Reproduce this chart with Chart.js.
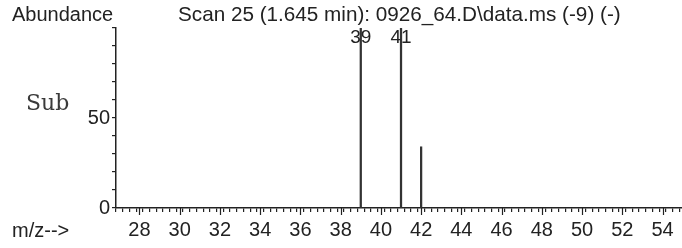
<!DOCTYPE html>
<html>
<head>
<meta charset="utf-8">
<script src="https://cdn.jsdelivr.net/npm/chart.js@4/dist/chart.umd.min.js"></script>
<style>
  html, body { margin: 0; padding: 0; background: #fff; }
  #wrap { width: 682px; height: 248px; position: relative; }
</style>
</head>
<body>
<div id="wrap"><canvas id="c"></canvas></div>
<script>
// ---- data ----
const mzValues = [39, 41, 42];
const abundance = [100, 100, 34];
const peakLabels = ["39", "41", ""];
const xMajorLabels = [28, 30, 32, 34, 36, 38, 40, 42, 44, 46, 48, 50, 52, 54];
const yLabels = [0, 50];
const titleText = "Scan 25 (1.645 min): 0926_64.D\\data.ms (-9) (-)";
const yTitle = "Abundance";
const xTitle = "m/z-->";
const sideNote = "Sub";

const INK = "#222";
const FONT = "'Liberation Sans', Arial, sans-serif";

const decorations = {
  id: "decorations",
  afterDraw(chart) {
    const ctx = chart.ctx;
    const xs = chart.scales.x, ys = chart.scales.y;
    ctx.save();
    // long major ticks
    ctx.strokeStyle = INK;
    ctx.lineWidth = 1.2;
    xMajorLabels.forEach(v => {
      const px = Math.round(xs.getPixelForValue(v)) + 0.5;
      ctx.beginPath();
      ctx.moveTo(px, ys.bottom);
      ctx.lineTo(px, ys.bottom + 7);
      ctx.stroke();
    });
    // peak labels
    ctx.fillStyle = INK;
    ctx.font = "19px " + FONT;
    ctx.textAlign = "center";
    ctx.textBaseline = "middle";
    mzValues.forEach((m, i) => {
      if (!peakLabels[i]) return;
      ctx.fillText(peakLabels[i], xs.getPixelForValue(m), ys.getPixelForValue(abundance[i]) + 10);
    });
    // header texts
    ctx.font = "20px " + FONT;
    ctx.textAlign = "left";
    ctx.fillText(yTitle, 12, 15);
    ctx.font = "20.7px " + FONT;
    ctx.fillText(titleText, 178, 15);
    ctx.font = "20px " + FONT;
    ctx.fillText(xTitle, 12, 231);
    ctx.font = "22px 'DejaVu Serif', 'Liberation Serif', serif";
    ctx.fillStyle = "#3a3a3a";
    ctx.fillText(sideNote, 26, 104);
    ctx.restore();
  }
};

new Chart(document.getElementById("c"), {
  type: "bar",
  data: {
    datasets: [{
      data: mzValues.map((m, i) => ({ x: m, y: abundance[i] })),
      backgroundColor: "#333",
      borderWidth: 0,
      barThickness: 1.6
    }]
  },
  options: {
    responsive: true,
    maintainAspectRatio: false,
    animation: false,
    layout: { padding: { top: 28, right: 0, left: 0, bottom: 0 } },
    plugins: { legend: { display: false }, title: { display: false }, tooltip: { enabled: false } },
    scales: {
      x: {
        type: "linear",
        min: 27,
        max: 54.8,
        afterBuildTicks(scale) {
          const t = [];
          for (let k = 81; k <= 164; k++) t.push({ value: k / 3 });
          scale.ticks = t;
        },
        afterFit(scale) { scale.height = 40; },
        grid: { drawOnChartArea: false, drawTicks: true, tickLength: 4, color: INK, lineWidth: 1.2 },
        border: { display: true, color: INK, width: 1.5 },
        ticks: {
          autoSkip: false,
          maxRotation: 0,
          padding: 6,
          color: INK,
          font: { family: FONT, size: 20 },
          callback(v) {
            const r = Math.round(v);
            return (Math.abs(v - r) < 1e-6 && xMajorLabels.includes(r)) ? String(r) : "";
          }
        }
      },
      y: {
        min: 0,
        max: 100,
        afterFit(scale) { scale.width = 116; },
        grid: { drawOnChartArea: false, drawTicks: true, tickLength: 4, color: INK, lineWidth: 1.2 },
        border: { display: true, color: INK, width: 1.5 },
        ticks: {
          stepSize: 10,
          autoSkip: false,
          padding: 2,
          color: INK,
          font: { family: FONT, size: 20 },
          callback(v) { return yLabels.includes(v) ? String(v) : ""; }
        }
      }
    }
  },
  plugins: [decorations]
});
</script>
</body>
</html>
